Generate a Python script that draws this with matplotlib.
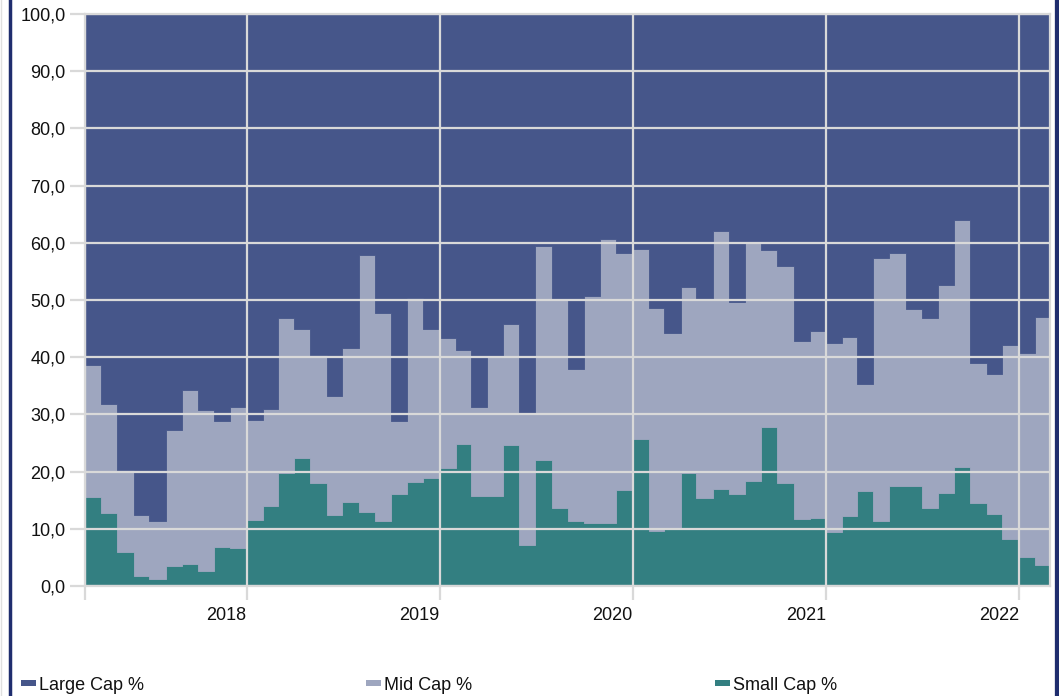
import numpy as np
import pandas as pd
import matplotlib
matplotlib.use("Agg")
import matplotlib.pyplot as plt
import matplotlib.dates as mdates
from matplotlib.lines import Line2D
from matplotlib.patches import Rectangle
from matplotlib.transforms import ScaledTranslation

plt.rcParams['font.family'] = ['Liberation Sans', 'DejaVu Sans']

# monthly shares (%), Mar 2017 .. Feb 2022
months = pd.date_range('2017-03-01', periods=60, freq='MS')

small_cap = [15.6, 12.7, 6.0, 1.8, 1.3, 3.5, 3.8, 2.7, 6.8, 6.6,
             11.5, 14.0, 19.8, 22.3, 18.0, 12.4, 14.6, 12.9, 11.4, 16.0, 18.2, 18.9,
             20.6, 24.9, 15.8, 15.7, 24.7, 7.2, 22.1, 13.6, 11.4, 11.1, 11.0, 16.7,
             25.7, 9.7, 9.9, 19.7, 15.4, 16.9, 16.0, 18.3, 27.8, 18.0, 11.7, 11.9,
             9.4, 12.3, 16.6, 11.4, 17.4, 17.5, 13.6, 16.2, 20.8, 14.5, 12.6, 8.3,
             5.1, 3.7]

mid_cap = [23.1, 19.2, 14.2, 10.6, 10.0, 23.8, 30.4, 28.0, 22.0, 24.7,
           17.6, 16.9, 27.1, 22.7, 22.3, 20.8, 27.0, 45.0, 36.3, 12.8, 32.1, 26.1,
           22.7, 16.3, 15.5, 24.5, 21.1, 23.0, 37.4, 36.5, 26.6, 39.6, 49.6, 41.6,
           33.2, 38.9, 34.4, 32.5, 34.8, 45.2, 33.7, 41.9, 31.0, 38.0, 31.2, 32.7,
           33.0, 31.3, 18.8, 46.0, 40.8, 30.9, 33.3, 36.5, 43.1, 24.4, 24.5, 33.9,
           35.7, 43.3]

large_cap = [61.3, 68.1, 79.8, 87.6, 88.7, 72.7, 65.8, 69.3, 71.2, 68.7,
             70.9, 69.1, 53.1, 55.0, 59.7, 66.8, 58.4, 42.1, 52.3, 71.2, 49.7, 55.0,
             56.7, 58.8, 68.7, 59.8, 54.2, 69.8, 40.5, 49.9, 62.0, 49.3, 39.4, 41.7,
             41.1, 51.4, 55.7, 47.8, 49.8, 37.9, 50.3, 39.8, 41.2, 44.0, 57.1, 55.4,
             57.6, 56.4, 64.6, 42.6, 41.8, 51.6, 53.1, 47.3, 36.1, 61.1, 62.9, 57.8,
             59.2, 53.0]

series_names = ['Large Cap %', 'Mid Cap %', 'Small Cap %']
year_ticks = ['2018-01-01', '2019-01-01', '2020-01-01', '2021-01-01', '2022-01-01']
year_labels = ['2018', '2019', '2020', '2021', '2022']

c_large = '#46568A'
c_mid = '#9EA6BF'
c_small = '#337F81'
c_grid = '#D9D9D9'

edges = months.append(pd.DatetimeIndex([months[-1] + pd.DateOffset(months=1)]))
x = mdates.date2num(edges)


def ext(v):
    v = np.asarray(v, dtype=float)
    return np.append(v, v[-1])


s = ext(small_cap)
m = s + ext(mid_cap)
l = m + ext(large_cap)

W, H = 1059, 696
fig = plt.figure(figsize=(W / 100, H / 100), dpi=100)
ax = fig.add_axes([85 / W, 110 / H, (1050 - 85) / W, 572 / H])

ax.fill_between(x, 0, s, step='post', color=c_small, lw=0.6)
ax.fill_between(x, s, m, step='post', color=c_mid, lw=0.6)
ax.fill_between(x, m, l, step='post', color=c_large, lw=0.6)

ax.set_xlim(x[0], x[-1])
ax.set_ylim(0, 100)

yt = list(range(0, 101, 10))
ax.set_yticks(yt)
ax.set_yticklabels([f"{v},0" for v in yt])

xt = [x[0]] + list(mdates.date2num(pd.to_datetime(year_ticks)))
ax.set_xticks(xt)
ax.set_xticklabels([''] + year_labels, ha='right')
shift = ScaledTranslation(-6 / 100, 0, fig.dpi_scale_trans)
for lbl in ax.get_xticklabels():
    lbl.set_transform(lbl.get_transform() + shift)

ax.set_axisbelow(False)
ax.grid(True, color=c_grid, lw=1.6)
for sp in ax.spines.values():
    sp.set_color(c_grid)
    sp.set_linewidth(1.6)

ax.tick_params(axis='y', length=11, width=1.6, color=c_grid, labelsize=13, pad=3, labelcolor='#111111')
ax.tick_params(axis='x', length=10, width=1.6, color=c_grid, labelsize=13, pad=5, labelcolor='#111111')

# frame lines left and right
fig.add_artist(Line2D([1 / W, 1 / W], [0, 1], transform=fig.transFigure, color='#E0E0E0', lw=1))
fig.add_artist(Line2D([10 / W, 10 / W], [0, 1], transform=fig.transFigure, color='#1F2D6E', lw=2.5))
fig.add_artist(Line2D([1056.5 / W, 1056.5 / W], [0, 1], transform=fig.transFigure, color='#1F2D6E', lw=3.8))

# legend
for name, col, px in zip(series_names, [c_large, c_mid, c_small], [21, 366, 715]):
    fig.add_artist(Rectangle((px / W, 10 / H), 15 / W, 6 / H, transform=fig.transFigure,
                             color=col, lw=0))
    fig.text((px + 18) / W, 10 / H, name, va='center', ha='left', fontsize=13, color='#111111')

fig.savefig('out.png', dpi=100)
